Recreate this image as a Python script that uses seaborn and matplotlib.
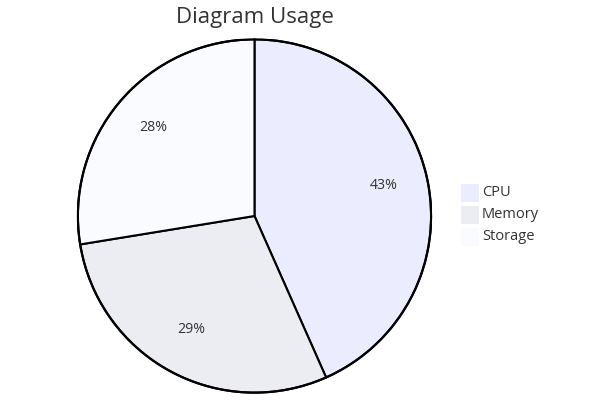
import matplotlib
matplotlib.use("Agg")
import matplotlib.pyplot as plt
import matplotlib.transforms as mtransforms
import seaborn as sns
from matplotlib.patches import Rectangle

categories = ["CPU", "Memory", "Storage"]
values = [43.4, 29.1, 27.6]
colors = ["#ECECFF", "#ECECF3", "#FAFBFF"]
title = "Diagram Usage"

sns.set_theme(style="white")
plt.rcParams["font.family"] = ["Open Sans", "DejaVu Sans"]

W, H = 598, 417
fig = plt.figure(figsize=(W / 100, H / 100), dpi=100)

cx, cy, r = 254.5, 216.0, 177.5
ax = fig.add_axes([(cx - r) / W, (H - cy - r) / H, 2 * r / W, 2 * r / H])
wedges, texts, autotexts = ax.pie(
    values, colors=colors, startangle=90, counterclock=False,
    autopct=lambda p: f"{p:.0f}%", pctdistance=0.75,
    wedgeprops=dict(edgecolor="black", linewidth=1.5),
    textprops=dict(fontsize=10.2, color="#333333"),
)
shift = mtransforms.ScaledTranslation(0, 3 / 100, fig.dpi_scale_trans)
for t in autotexts:
    t.set_transform(ax.transData + shift)
ax.add_patch(plt.Circle((0, 0), 1.0, fill=False, edgecolor="black", linewidth=1.6))
ax.set_xlim(-1.005, 1.005)
ax.set_ylim(-1.005, 1.005)
ax.set_aspect("equal")
ax.axis("off")

fig.text(cx / W, 1 - 17 / H, title, ha="center", va="center", fontsize=16, color="#333333")

sq = 18
x0, y0, step = 461, 184, 22
for i, (cat, col) in enumerate(zip(categories, colors)):
    top = y0 + i * step
    fig.patches.append(Rectangle((x0 / W, 1 - (top + sq) / H), sq / W, sq / H,
                                 transform=fig.transFigure, facecolor=col, edgecolor="none"))
    fig.text((x0 + sq + 3) / W, 1 - (top + sq / 2) / H, cat, ha="left", va="center",
             fontsize=10.5, color="#333333")

fig.savefig("out.png", dpi=100, facecolor="white")
